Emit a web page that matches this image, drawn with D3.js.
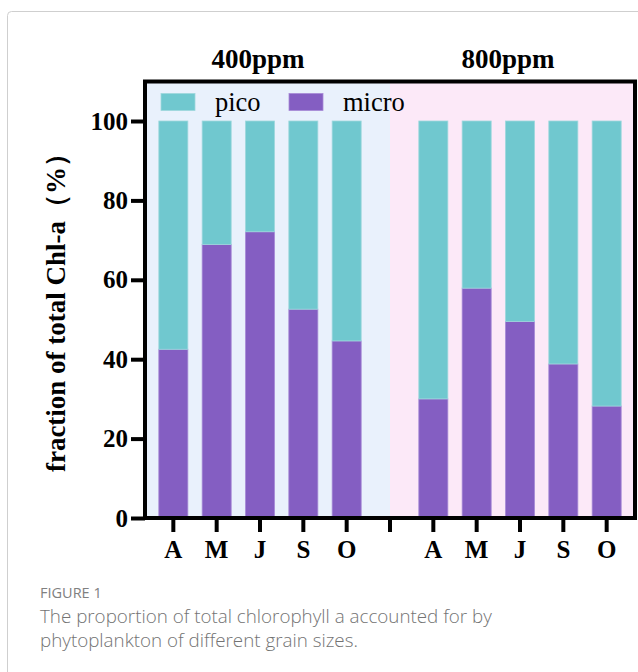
<!DOCTYPE html>
<html>
<head>
<meta charset="utf-8">
<script src="https://cdn.jsdelivr.net/npm/d3@7"></script>
<style>
  html, body { margin: 0; padding: 0; background: #fff; }
  svg { display: block; }
</style>
</head>
<body>
<svg id="chart" width="638" height="672"></svg>
<script>
// Size-fraction data: share of total Chl-a (%) by month and CO2 treatment
const months = ["A", "M", "J", "S", "O"];
const groups = ["400ppm", "800ppm"];
const micro400 = [42.5, 68.9, 72.1, 52.6, 44.6];
const pico400  = [57.5, 31.1, 27.9, 47.4, 55.4];
const micro800 = [30.0, 57.9, 49.5, 38.8, 28.2];
const pico800  = [70.0, 42.1, 50.5, 61.2, 71.8];
const yTicks = [0, 20, 40, 60, 80, 100];
const seriesNames = ["pico", "micro"];

const colors = { pico: "#70C8CF", micro: "#845EC2" };
const edgeColors = { pico: "#9ED8DD", micro: "#A78AD6" };
const bgColors = ["#E9F1FC", "#FCE9F8"];

// Flatten into rows; a spacer slot separates the two treatments
const rows = [];
months.forEach((m, i) => rows.push({ key: "400-" + m, label: m, group: 0, micro: micro400[i], pico: pico400[i] }));
const gapKey = "gap";
months.forEach((m, i) => rows.push({ key: "800-" + m, label: m, group: 1, micro: micro800[i], pico: pico800[i] }));
const domain = rows.slice(0, 5).map(d => d.key).concat([gapKey], rows.slice(5).map(d => d.key));
const labelOf = {};
rows.forEach(d => { labelOf[d.key] = d.label; });

const svg = d3.select("#chart");
const serif = "'Liberation Serif', 'Times New Roman', serif";
const sans = "'Open Sans', 'Noto Sans', sans-serif";

// Card outline
svg.append("rect")
  .attr("x", 7.5).attr("y", 11.5)
  .attr("width", 700).attr("height", 700)
  .attr("rx", 4)
  .attr("fill", "#fff").attr("stroke", "#cfcfcf").attr("stroke-width", 1);

// Frame geometry
const frame = { left: 145, right: 635, top: 81.5, bottom: 518 };

const x = d3.scaleBand()
  .domain(domain)
  .range([151.67, 628.33])
  .paddingInner(0.33)
  .paddingOuter(0.165);

const y = d3.scaleLinear().domain([0, 100]).range([518, 121]);

const xc = k => x(k) + x.bandwidth() / 2;
const gapX = xc(gapKey);

// Treatment backgrounds
svg.append("rect")
  .attr("x", frame.left).attr("y", frame.top)
  .attr("width", gapX - frame.left).attr("height", frame.bottom - frame.top)
  .attr("fill", bgColors[0]);
svg.append("rect")
  .attr("x", gapX).attr("y", frame.top)
  .attr("width", frame.right - gapX).attr("height", frame.bottom - frame.top)
  .attr("fill", bgColors[1]);

// Stacked bars: micro at the bottom, pico on top
const stack = d3.stack().keys(["micro", "pico"]);
const stacked = stack(rows);
svg.append("g").selectAll("g")
  .data(stacked)
  .join("g")
  .attr("fill", s => colors[s.key])
  .attr("stroke", s => edgeColors[s.key])
  .attr("stroke-width", 0.8)
  .selectAll("rect")
  .data(s => s)
  .join("rect")
  .attr("x", d => x(d.data.key))
  .attr("width", x.bandwidth())
  .attr("y", d => y(d[1]))
  .attr("height", d => y(d[0]) - y(d[1]));

// Frame (top, left, right)
svg.append("path")
  .attr("d", `M${frame.left},${frame.bottom}V${frame.top}H${frame.right}V${frame.bottom}`)
  .attr("fill", "none").attr("stroke", "#000").attr("stroke-width", 4)
  .attr("stroke-linejoin", "miter");

// X axis
const xAxis = d3.axisBottom(x)
  .tickSizeInner(14).tickSizeOuter(0)
  .tickPadding(8)
  .tickFormat(k => labelOf[k] || "");
const gx = svg.append("g").attr("transform", `translate(0,${frame.bottom})`).call(xAxis);
gx.select(".domain")
  .attr("d", `M${frame.left - 2},0H${frame.right + 2}`)
  .attr("stroke", "#000").attr("stroke-width", 4);
gx.selectAll(".tick line").attr("stroke", "#000").attr("stroke-width", 4);
gx.selectAll(".tick text")
  .attr("font-family", serif).attr("font-weight", "bold")
  .attr("font-size", 25).attr("fill", "#000")
  .attr("dy", "0.72em");

// Y axis
const yAxis = d3.axisLeft(y)
  .tickValues(yTicks)
  .tickSizeInner(14).tickSizeOuter(0)
  .tickPadding(3);
const gy = svg.append("g").attr("transform", `translate(${frame.left},0)`).call(yAxis);
gy.select(".domain").remove();
gy.selectAll(".tick line").attr("stroke", "#000").attr("stroke-width", 4);
gy.selectAll(".tick text")
  .attr("font-family", serif).attr("font-weight", "bold")
  .attr("font-size", 25).attr("fill", "#000");

// Y axis title
svg.append("text")
  .attr("transform", `translate(65,306) rotate(-90)`)
  .attr("text-anchor", "middle")
  .attr("font-family", serif).attr("font-weight", "bold")
  .attr("font-size", 27).attr("fill", "#000")
  .text("fraction of total Chl-a（%）");

// Treatment titles
const titleX = [xc("400-J") - 2, xc("800-J") - 12];
groups.forEach((g, i) => {
  svg.append("text")
    .attr("x", titleX[i]).attr("y", 68)
    .attr("text-anchor", "middle")
    .attr("font-family", serif).attr("font-weight", "bold")
    .attr("font-size", 27).attr("fill", "#000")
    .text(g);
});

// Legend
const legendX = [161, 289];
const legend = svg.append("g");
seriesNames.forEach((name, i) => {
  legend.append("rect")
    .attr("x", legendX[i]).attr("y", 93.5)
    .attr("width", 34).attr("height", 17)
    .attr("fill", colors[name])
    .attr("stroke", edgeColors[name]).attr("stroke-width", 0.8);
  legend.append("text")
    .attr("x", legendX[i] + 54).attr("y", 111)
    .attr("font-family", serif).attr("font-size", 26.5).attr("fill", "#000")
    .text(name);
});

// Caption
svg.append("text")
  .attr("x", 40).attr("y", 598)
  .attr("font-family", sans).attr("font-size", 14.5).attr("fill", "#808080")
  .text("FIGURE 1");
const caption = ["The proportion of total chlorophyll a accounted for by",
                 "phytoplankton of different grain sizes."];
caption.forEach((line, i) => {
  svg.append("text")
    .attr("x", 40).attr("y", 623 + i * 24)
    .attr("font-family", sans).attr("font-size", 18.8).attr("fill", "#737373")
    .attr("font-weight", 300)
    .text(line);
});
</script>
</body>
</html>
